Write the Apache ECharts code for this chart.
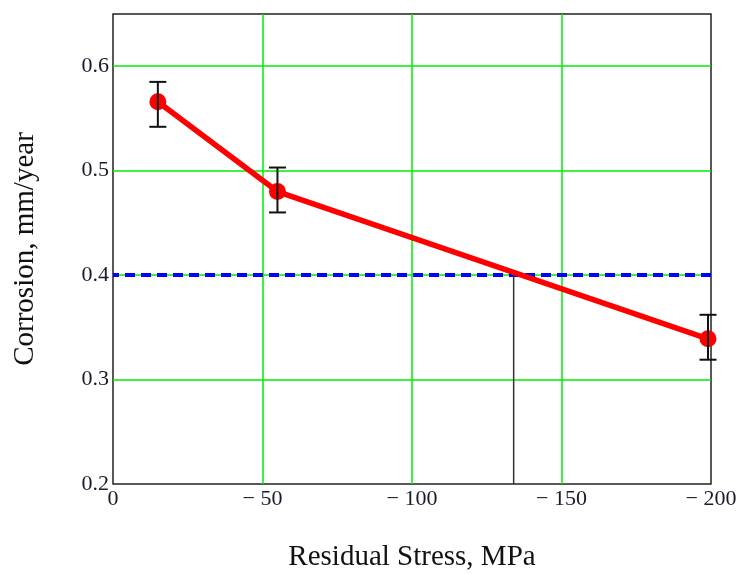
<!DOCTYPE html>
<html>
<head>
<meta charset="utf-8">
<script src="https://cdn.jsdelivr.net/npm/echarts@6/dist/echarts.min.js"></script>
<style>html,body{margin:0;padding:0;background:#fff;}#c{width:746px;height:574px;}</style>
</head>
<body>
<div id="c"></div>
<script>
var stress = [-15, -55, -199];
var corrosion = [0.566, 0.480, 0.339];
var errLow = [0.542, 0.460, 0.319];
var errHigh = [0.585, 0.503, 0.362];
var limitLevel = 0.4;
var crossStress = -134;
var xTicks = [0, -50, -100, -150, -200];
var yTicks = [0.2, 0.3, 0.4, 0.5, 0.6];

var lineData = stress.map(function (s, i) { return [s, corrosion[i]]; });
var errData = stress.map(function (s, i) { return [s, errLow[i], errHigh[i]]; });

var chart = echarts.init(document.getElementById('c'));
var serif = '"Liberation Serif", "DejaVu Serif", serif';
var labelColor = '#1a1a2a';
chart.setOption({
  animation: false,
  grid: { left: 113, right: 35, top: 14, bottom: 90, show: true, borderColor: '#222', borderWidth: 1.5,
    backgroundColor: 'transparent', containLabel: false, outerBoundsMode: 'none' },
  xAxis: {
    type: 'value', min: -200, max: 0, interval: 50, inverse: true,
    name: 'Residual Stress, MPa', nameLocation: 'middle', nameGap: 59,
    nameTextStyle: { fontFamily: serif, fontSize: 29, color: '#111' },
    axisLine: { show: false }, axisTick: { show: false },
    axisLabel: { fontFamily: serif, fontSize: 22, color: labelColor, margin: 4,
      formatter: function (v) { return v < 0 ? '\u2212 ' + Math.abs(v) : String(v); } },
    splitLine: { show: true, showMinLine: false, showMaxLine: false, lineStyle: { color: '#00ee00', width: 1.5 } }
  },
  yAxis: {
    type: 'value', min: 0.2, max: 0.65, interval: 0.1,
    name: 'Corrosion, mm/year', nameLocation: 'middle', nameGap: 73,
    nameTextStyle: { fontFamily: serif, fontSize: 29, color: '#111' },
    axisLine: { show: false }, axisTick: { show: false },
    axisLabel: { fontFamily: serif, fontSize: 22, color: labelColor, margin: 4, showMaxLabel: false,
      formatter: function (v) { return v.toFixed(1); } },
    splitLine: { show: true, showMinLine: false, showMaxLine: false, lineStyle: { color: '#00ee00', width: 1.5 } }
  },
  series: [
    {
      type: 'line', data: [[-200, limitLevel], [0, limitLevel]], symbol: 'none', z: 3,
      lineStyle: { color: '#0000ff', width: 4, type: [10, 6] }
    },
    {
      type: 'line', data: [[crossStress, 0.2], [crossStress, limitLevel]], symbol: 'none', z: 3,
      lineStyle: { color: '#333', width: 1.5 }
    },
    {
      type: 'line', data: lineData, symbol: 'circle', symbolSize: 17, z: 4,
      itemStyle: { color: '#ff0000' }, lineStyle: { color: '#ff0000', width: 5.5 }
    },
    {
      type: 'custom', data: errData, z: 5, clip: false,
      renderItem: function (params, api) {
        var x = api.value(0);
        var top = api.coord([x, api.value(2)]);
        var bot = api.coord([x, api.value(1)]);
        var hw = 8.5;
        var st = { stroke: '#111', lineWidth: 2 };
        return { type: 'group', children: [
          { type: 'line', shape: { x1: top[0], y1: top[1], x2: bot[0], y2: bot[1] }, style: st },
          { type: 'line', shape: { x1: top[0] - hw, y1: top[1], x2: top[0] + hw, y2: top[1] }, style: st },
          { type: 'line', shape: { x1: bot[0] - hw, y1: bot[1], x2: bot[0] + hw, y2: bot[1] }, style: st }
        ] };
      }
    }
  ]
});
</script>
</body>
</html>
